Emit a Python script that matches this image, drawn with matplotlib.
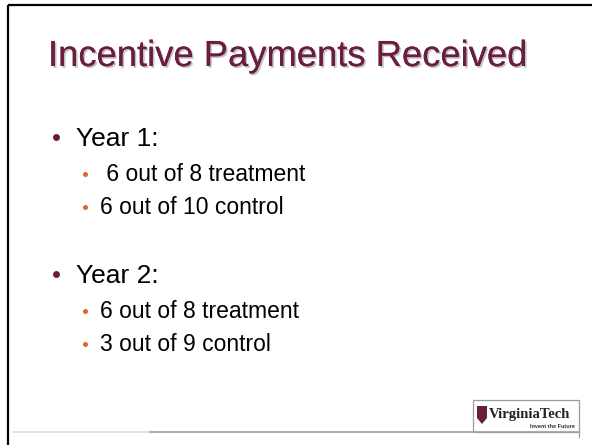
import matplotlib
matplotlib.use("Agg")
import matplotlib.pyplot as plt
import matplotlib.patheffects as pe
from matplotlib.patches import Rectangle, Polygon

# slide content
title = "Incentive Payments Received"
headings = ["Year 1:", "Year 2:"]
sub_items = [[" 6 out of 8 treatment", "6 out of 10 control"],
             ["6 out of 8 treatment", "3 out of 9 control"]]

MAROON = "#6b1d3f"
ORANGE = "#e0652b"

W, H = 592, 445
fig = plt.figure(figsize=(W / 100, H / 100), dpi=100)
ax = fig.add_axes([0, 0, 1, 1])
ax.set_xlim(0, W)
ax.set_ylim(H, 0)
ax.axis("off")

font = "Liberation Sans"

# slide frame (top and left edges)
ax.plot([8, W], [5, 5], color="black", lw=1.6, solid_capstyle="butt")
ax.plot([8, 8], [5, H], color="black", lw=1.6, solid_capstyle="butt")

# title with a soft shadow
ax.text(48, 66, title, fontsize=26.2, family=font, color=MAROON, va="baseline",
        path_effects=[pe.withSimplePatchShadow(offset=(1.2, -1.2),
                                               shadow_rgbFace="#a8a8a8", alpha=0.7),
                      pe.Normal()])

# bullets
head_y = [146, 283]
for hy, head, subs in zip(head_y, headings, sub_items):
    ax.plot(56, hy - 9, "o", ms=5, color=MAROON, mec="none")
    ax.text(76, hy, head, fontsize=19, family=font, color="black", va="baseline")
    for j, s in enumerate(subs):
        sy = hy + 35 + j * 33
        ax.plot(85, sy - 7.5, "o", ms=3.6, color=ORANGE, mec="none")
        ax.text(100, sy, s, fontsize=16.5, family=font, color="black", va="baseline")

# footer line
ax.plot([13, 150], [432, 432], color="#dcdcdc", lw=1.2)
ax.plot([150, 579], [432, 432], color="#a0a0a0", lw=1.2)

# logo box
ax.add_patch(Rectangle((473, 400), 106, 32, fill=False, ec="#9a9a9a", lw=0.9))
ax.plot([579, 579], [432, 437], color="#9a9a9a", lw=0.9)
ax.add_patch(Polygon([(477, 406), (487, 406), (487, 418), (482, 424), (477, 418)],
                     closed=True, fc=MAROON, ec="none"))
ax.text(489, 418, "VirginiaTech", fontsize=10.5, family="Liberation Serif",
        weight="bold", color="#222222", va="baseline")
ax.text(575, 428, "Invent the Future", fontsize=4, family="Liberation Sans",
        weight="bold", color="#333333", va="baseline", ha="right")

fig.savefig("out.png", dpi=100)
